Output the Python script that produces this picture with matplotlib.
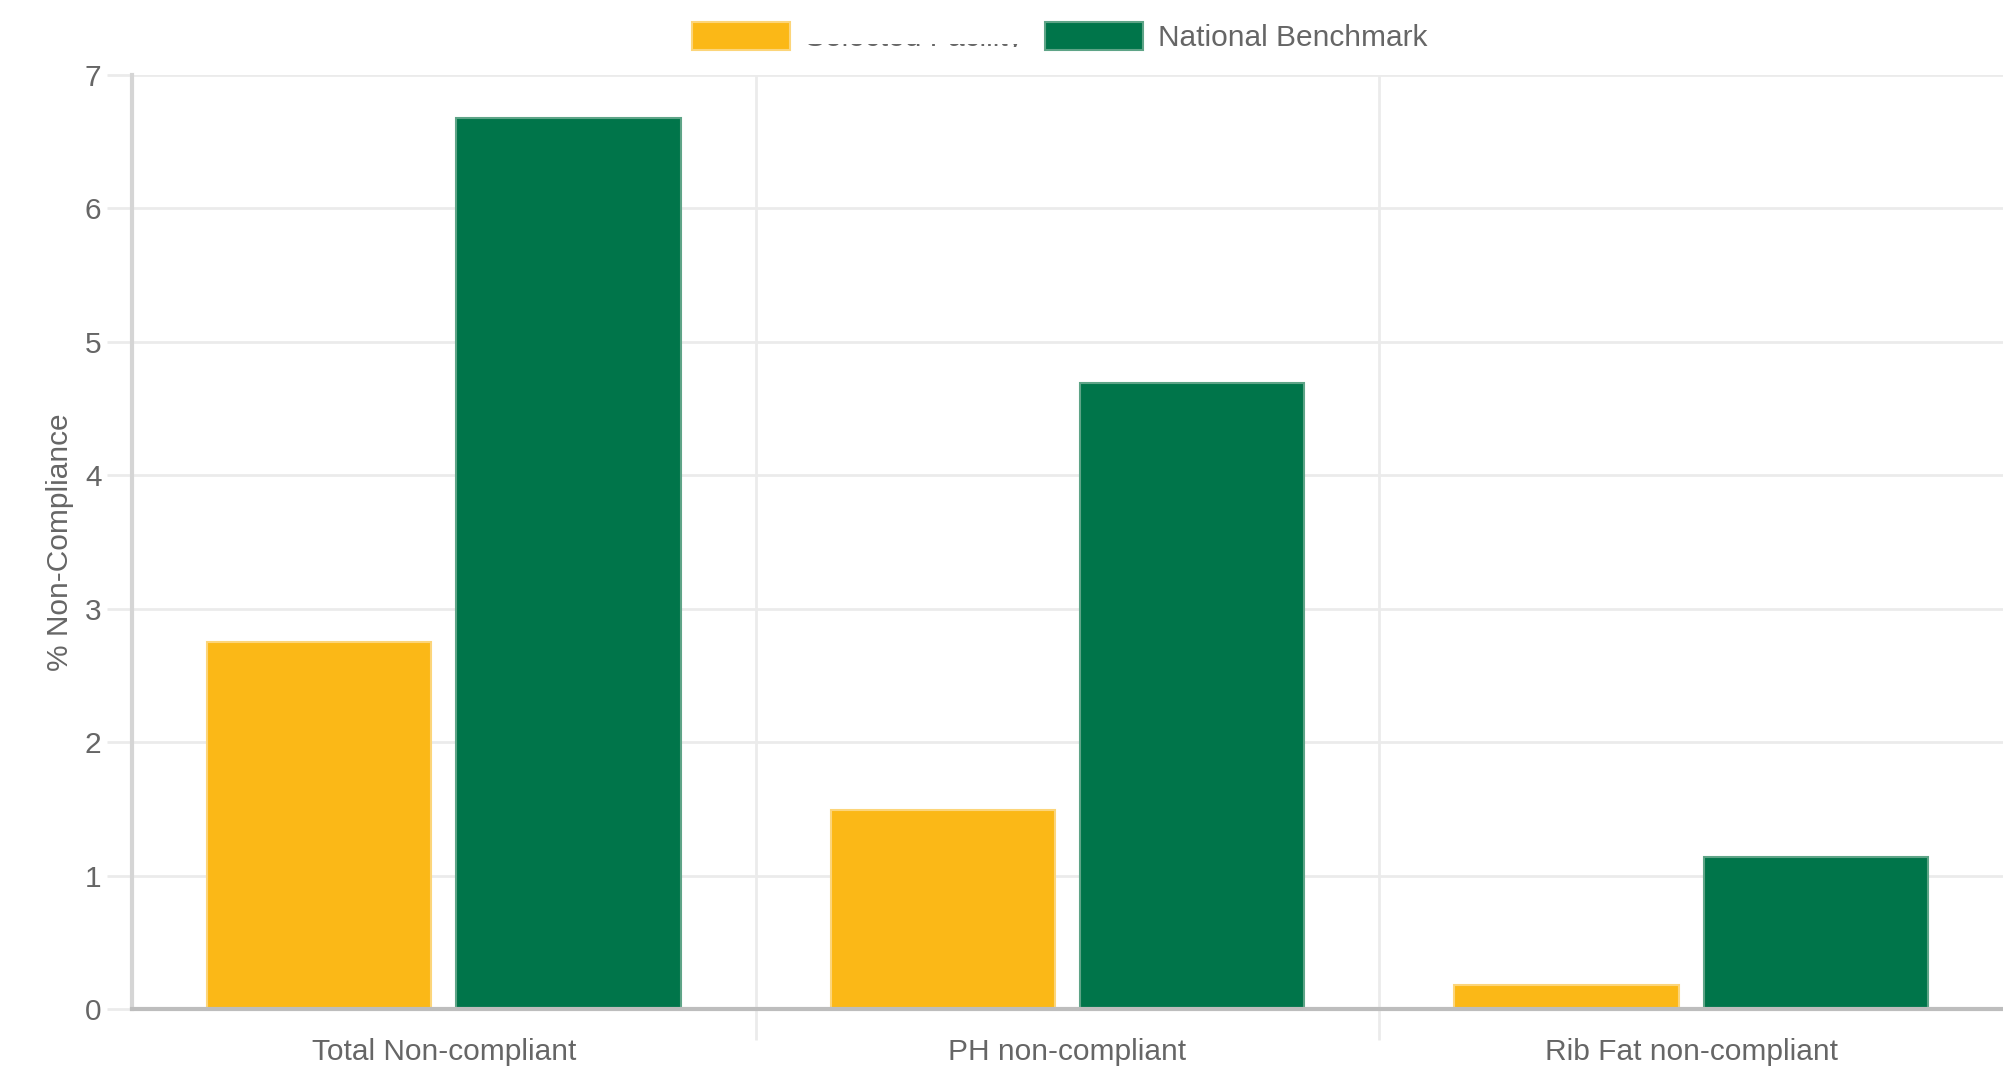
import matplotlib
matplotlib.use("Agg")
import matplotlib.pyplot as plt
import numpy as np
from matplotlib.transforms import Bbox

categories = ["Total Non-compliant", "PH non-compliant", "Rib Fat non-compliant"]
series_names = ["Selected Facility", "National Benchmark"]
facility = [2.75, 1.49, 0.18]
benchmark = [6.68, 4.69, 1.14]
yticks = [0, 1, 2, 3, 4, 5, 6, 7]

plt.rcParams['font.family'] = ['Liberation Sans', 'DejaVu Sans']

FS = 21.5

fig = plt.figure(figsize=(20.03, 10.67), dpi=100)
ax = fig.add_axes([0.0659, 0.0544, 0.9341, 0.8753])

x = np.arange(len(categories))
slot = 0.4
bw = 0.36
b1 = ax.bar(x - slot / 2, facility, width=bw, color="#FBB817",
            edgecolor="#FCD57A", linewidth=1.5, label=series_names[0], zorder=3)
b2 = ax.bar(x + slot / 2, benchmark, width=bw, color="#00754A",
            edgecolor="#5EA487", linewidth=1.5, label=series_names[1], zorder=3)

ax.set_xlim(-0.5, len(categories) - 0.5)
ax.set_ylim(0, 7)
ax.set_yticks(yticks)
ax.set_yticklabels([str(t) for t in yticks])
ax.set_xticks(x)
ax.set_xticklabels(categories)
ax.set_xticks(np.arange(len(categories) - 1) + 0.5, minor=True)

ax.grid(axis='y', which='major', color="#ebebeb", linewidth=2, zorder=0)
ax.grid(axis='x', which='minor', color="#ebebeb", linewidth=2, zorder=0)

ax.tick_params(axis='y', length=18, width=2, color="#ebebeb", labelsize=FS,
               labelcolor="#666666", pad=4)
ax.tick_params(axis='x', which='major', length=0, labelsize=FS,
               labelcolor="#666666", pad=21)
ax.tick_params(axis='x', which='minor', length=22, width=2, color="#ebebeb")

for s in ['top', 'right']:
    ax.spines[s].set_visible(False)
ax.spines['left'].set_color("#d5d5d5")
ax.spines['left'].set_linewidth(3)
ax.spines['bottom'].set_color("#bdbdbd")
ax.spines['bottom'].set_linewidth(3)
ax.spines['bottom'].set_zorder(4)

ax.set_ylabel("% Non-Compliance", fontsize=FS, color="#666666", labelpad=8)

leg = fig.legend(handles=[b1, b2], labels=series_names, loc='center',
                 bbox_to_anchor=(0.529, 1 - 37 / 1067), ncol=2, frameon=False,
                 fontsize=FS, handlelength=3.28, handleheight=1.04,
                 handletextpad=0.5, columnspacing=0.75, borderaxespad=0)
for t in leg.get_texts():
    t.set_color("#666666")

fig.canvas.draw()
t0 = leg.get_texts()[0]
bb = t0.get_window_extent()
clip = Bbox.from_extents(bb.x0 - 2, bb.y0 + bb.height * 0.19,
                         bb.x1 + 2, bb.y0 + bb.height * 0.27)
t0.set_clip_box(clip)
t0.set_clip_on(True)

fig.savefig("out.png", dpi=100, facecolor="white")
